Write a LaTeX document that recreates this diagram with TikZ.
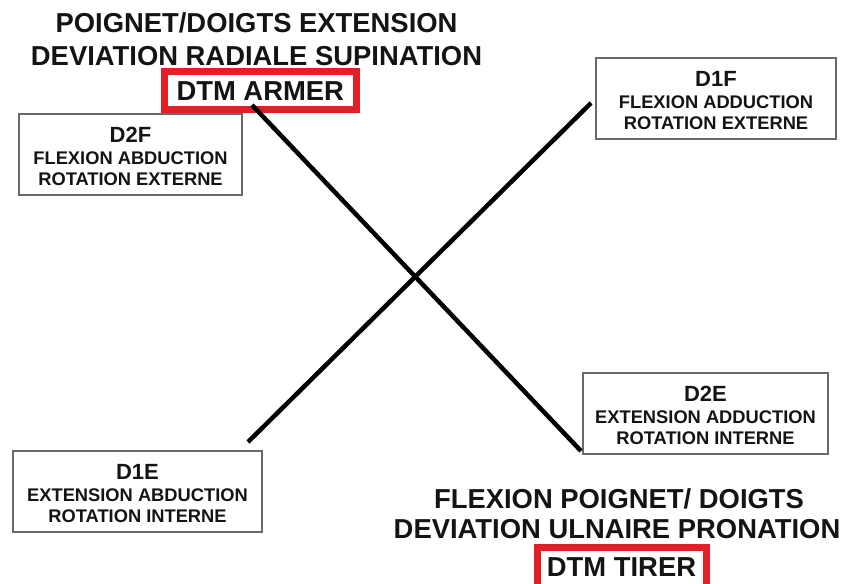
\documentclass[tikz,border=0pt]{standalone}
\usepackage{fontspec}
\setmainfont{Liberation Sans}
\usetikzlibrary{calc}
\definecolor{frameRed}{RGB}{226,30,38}
\definecolor{boxGray}{RGB}{105,105,105}
\definecolor{ink}{RGB}{20,20,20}
% heading line of a pattern box, with a strut that lowers the block a little
\newcommand\patternhead[1]{{\fontsize{22}{22}\selectfont\rule{0pt}{20pt}#1}}
\begin{document}
\begin{tikzpicture}[x=1pt,y=-1pt,
  title/.style={font=\bfseries\fontsize{27.4}{30}\selectfont, text=ink, inner sep=0, anchor=base},
  redframe/.style={draw=frameRed, line width=7pt, inner sep=0, fill=white,
    font=\bfseries\fontsize{27.4}{30}\selectfont, text=ink},
  patbox/.style={draw=boxGray, line width=1.4pt, inner sep=0, align=center,
    minimum height=81pt, text=ink,
    font=\bfseries\fontsize{18.3}{21.5}\selectfont},
  diag/.style={line width=4.5pt, draw=black}]
\useasboundingbox (0,0) rectangle (845,583);

% upper heading
\node[title] (t1) at (256.5,33) {POIGNET/DOIGTS EXTENSION};
\node[title] (t2) at (256.5,66) {DEVIATION RADIALE SUPINATION};
\node[redframe, minimum width=192.5pt, minimum height=38.5pt] (armer) at (260.25,90.75) {DTM ARMER};

% lower heading
\node[title] (b1) at (619,508) {FLEXION POIGNET/ DOIGTS};
\node[title] (b2) at (617,538) {DEVIATION ULNAIRE PRONATION};
\node[redframe, minimum width=169pt, minimum height=50pt, text height=19.6pt, text depth=10.6pt, anchor=north] (tirer) at (621.5,543.5) {DTM TIRER};

% diagonal patterns
\node[patbox, minimum width=223pt] (d2f) at (130.5,154.5) {\patternhead{D2F}\\FLEXION ABDUCTION\\ROTATION EXTERNE};
\node[patbox, minimum width=240pt] (d1f) at (716,98.5) {\patternhead{D1F}\\FLEXION ADDUCTION\\ROTATION EXTERNE};
\node[patbox, minimum width=249pt] (d1e) at (137.5,491.5) {\patternhead{D1E}\\EXTENSION ABDUCTION\\ROTATION INTERNE};
\node[patbox, minimum width=245pt] (d2e) at (705.5,413.5) {\patternhead{D2E}\\EXTENSION ADDUCTION\\ROTATION INTERNE};

% crossing lines
\coordinate (armerFoot) at (252,105);
\coordinate (d2eEnd) at (581,451);
\coordinate (d1eEnd) at (248,442);
\coordinate (d1fEnd) at (591,103);
\draw[diag] (armerFoot) -- (d2eEnd);
\draw[diag] (d1eEnd) -- (d1fEnd);
\end{tikzpicture}
\end{document}
